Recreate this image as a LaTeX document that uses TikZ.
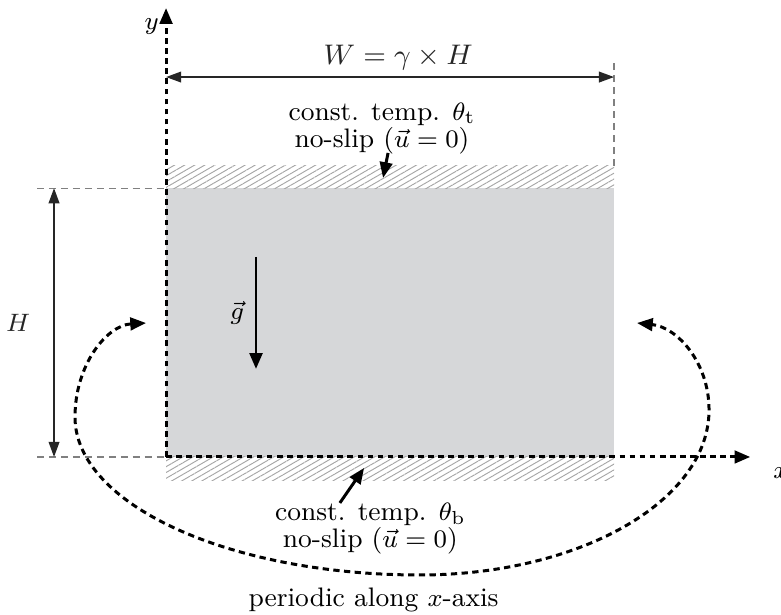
\documentclass[tikz,border=0pt]{standalone}
\usetikzlibrary{arrows.meta,patterns.meta}
\definecolor{boxgray}{RGB}{214,215,217}

\begin{document}
\begin{tikzpicture}[every node/.style={font=\fontsize{8.5}{8.6}\selectfont},
  >={Triangle[length=5pt,width=4pt]},
  axis/.style={->,line width=0.95pt,dash pattern=on 1.8pt off 1.4pt},
  guide/.style={gray,line width=0.4pt,dash pattern=on 2.2pt off 1.6pt},
  dim/.style={<->,black!85,line width=0.5pt,>={Triangle[length=4.8pt,width=3.4pt]}},
  wall/.style={pattern={Lines[angle=30,distance=1.6pt,line width=0.3pt]},pattern color=gray!70},
  periodic/.style={<->,line width=0.95pt,dash pattern=on 2pt off 1.4pt}]
  \useasboundingbox (-1.853,-1.763) rectangle (6.863,5.100);
  \fill[boxgray] (0,0) rectangle (5,3);
  \fill[wall] (0,3) rectangle (5,3.25);
  \fill[wall] (0,-0.257) rectangle (5,0);
  \coordinate (O) at (0,0);
  \coordinate (yend) at (0,5.01);
  \coordinate (xend) at (6.52,0);
  \coordinate (wl) at (0,4.24);
  \coordinate (wr) at (5,4.24);
  \coordinate (hb) at (-1.25,0);
  \coordinate (ht) at (-1.25,3);
  \coordinate (g1) at (1.004,2.232);
  \coordinate (g2) at (1.004,0.982);
  \coordinate (ta1) at (2.478,3.393);
  \coordinate (ta2) at (2.422,3.114);
  \coordinate (ba1) at (1.94,-0.513);
  \coordinate (ba2) at (2.21,-0.123);
  \coordinate (lt) at (-0.223,1.495);
  \coordinate (rt) at (5.256,1.495);
  \draw[guide] (-1.44,3) -- (0,3);
  \draw[guide] (-1.44,0) -- (O);
  \draw[guide] (5,3.25) -- (5,4.43);
  \draw[axis] (O) -- (yend) node[left=-1.5pt,yshift=-6pt] (ylab) {$y$};
  \draw[axis] (O) -- (xend) node[right=3.5pt,yshift=-5pt] (xlab) {$x$};
  \draw[dim] (wl) -- (wr) node[midway,above=-1.5pt,xshift=2.6pt,font=\fontsize{8.8}{9}\selectfont] (wlab) {$W=\gamma\times H$};
  \draw[dim] (hb) -- (ht) node[midway,left=4pt] (hlab) {$H$};
  \draw[->,line width=0.95pt] (g1) -- (g2) node[midway,left] (glab) {$\vec{g}$};
  \node[align=center] (toptext) at (2.41,3.666) {const. temp. $\theta_\mathrm{t}$\\no-slip ($\vec{u}=0$)};
  \node[align=center] (bottext) at (2.28,-0.8) {const. temp. $\theta_\mathrm{b}$\\no-slip ($\vec{u}=0$)};
  \node (pertext) at (2.316,-1.596) {periodic along $x$-axis};
  \draw[->,line width=0.95pt] (ta1) -- (ta2);
  \draw[->,line width=0.95pt] (ba1) -- (ba2);
  \draw[periodic] (lt) .. controls (-0.66,1.47) and (-1.016,1.03) .. (-1.016,0.446)
    .. controls (-1.016,-0.527) and (0.705,-1.317) .. (2.83,-1.317)
    .. controls (4.613,-1.317) and (6.06,-0.493) .. (6.06,0.525)
    .. controls (6.06,1.06) and (5.70,1.45) .. (rt);
\end{tikzpicture}
\end{document}
